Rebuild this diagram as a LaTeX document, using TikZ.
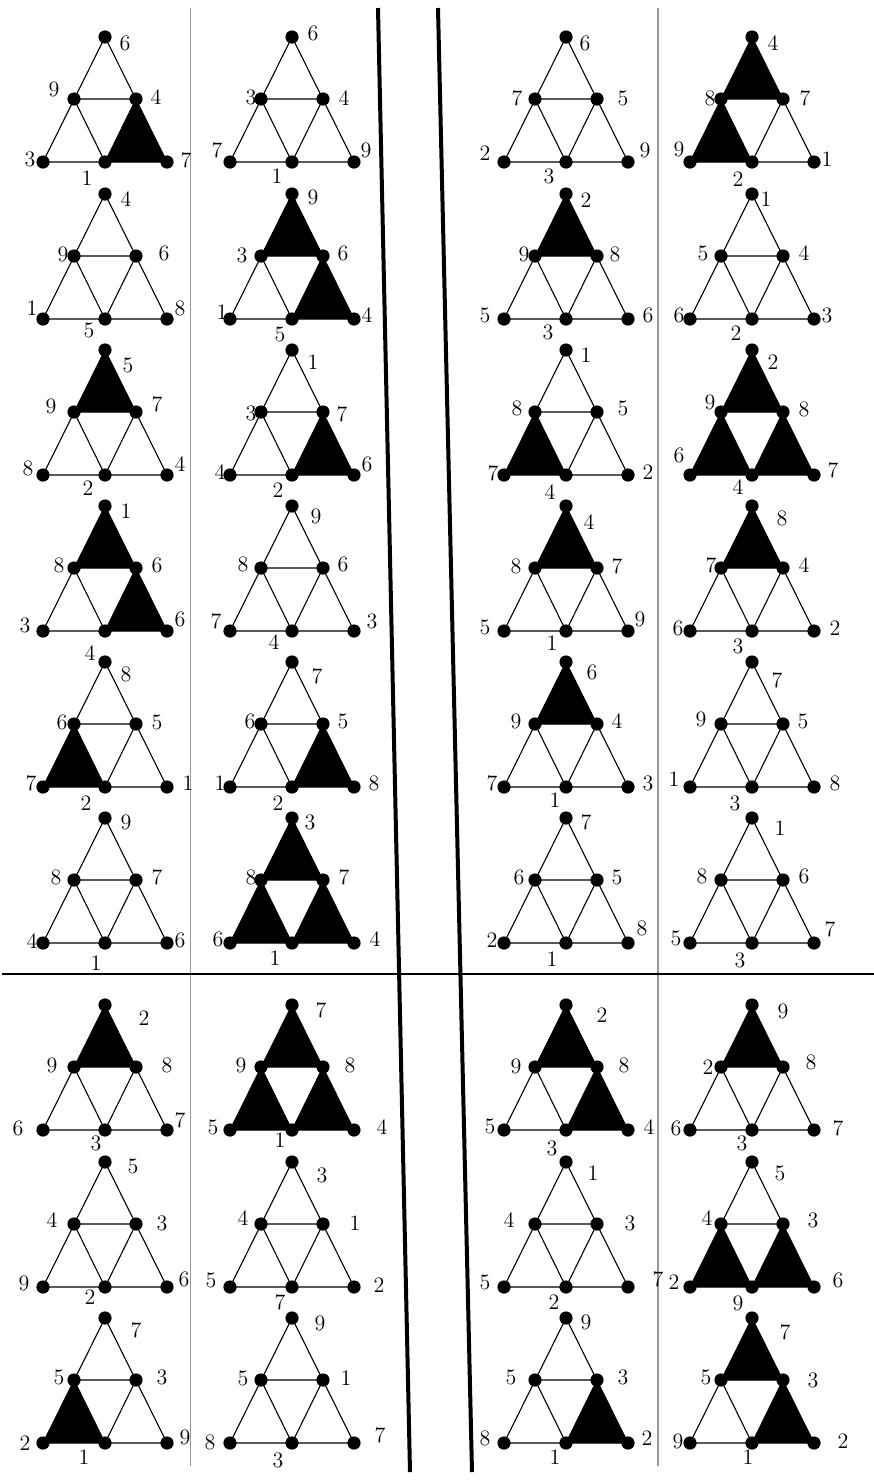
\documentclass[tikz,border=0pt]{standalone}
\usetikzlibrary{calc}
\tikzset{
  vtx/.style={circle,fill=black,inner sep=0pt,minimum size=6.6pt},
  edge/.style={line width=0.55pt,black},
  lab/.style={inner sep=0pt,font=\fontsize{11}{13}\selectfont},
  sep/.style={line width=0.8pt,gray!80},
  heavy/.style={line width=2pt,black},
  hline/.style={line width=0.8pt,black}
}
\newcommand\tricell[3]{%
  \coordinate (#1) at (#2,#3);
  \node[vtx] (#1T) at (#1) {};
  \node[vtx] (#1L) at ($(#1)+(-31,62)$) {};
  \node[vtx] (#1R) at ($(#1)+(31,62)$) {};
  \node[vtx] (#1A) at ($(#1)+(-62,125)$) {};
  \node[vtx] (#1B) at ($(#1)+(0,125)$) {};
  \node[vtx] (#1C) at ($(#1)+(62,125)$) {};
  \draw[edge] (#1T.center) -- (#1A.center) -- (#1C.center) -- cycle;
  \draw[edge] (#1L.center) -- (#1R.center) -- (#1B.center) -- cycle;
}
\newcommand\filltop[1]{\fill (#1T.center) -- (#1L.center) -- (#1R.center) -- cycle;}
\newcommand\fillleft[1]{\fill (#1L.center) -- (#1A.center) -- (#1B.center) -- cycle;}
\newcommand\fillright[1]{\fill (#1R.center) -- (#1B.center) -- (#1C.center) -- cycle;}
\newcommand\labs[2]{\foreach \v/\t/\dx/\dy in {#2} {\node[lab] (#1\v lab) at ($(#1)+(\dx,\dy)$) {\t};}}
\begin{document}
\begin{tikzpicture}[x=0.5pt,y=-0.5pt]
\useasboundingbox (0,0) rectangle (874,1480);
% separators
\coordinate (g1a) at (190.5,8); \coordinate (g1b) at (190.5,1466);
\coordinate (g2a) at (658,8); \coordinate (g2b) at (658,1466);
\draw[sep] (g1a) -- (g1b);
\draw[sep] (g2a) -- (g2b);
\coordinate (ha) at (2,974); \coordinate (hb) at (874,974);
\draw[hline] (ha) -- (hb);
\coordinate (k1a) at (378,8); \coordinate (k1b) at (410,1472);
\coordinate (k2a) at (438,8); \coordinate (k2b) at (472,1472);
\draw[heavy] (k1a) -- (k1b);
\draw[heavy] (k2a) -- (k2b);
% ---------- column 1
\tricell{a1}{105}{37}\fillright{a1}
\labs{a1}{T/6/20/6, L/9/-51/52, R/4/51/60, A/3/-75/122, B/1/-18/141, C/7/81/123}
\tricell{a2}{105}{194}
\labs{a2}{T/4/21/5, L/9/-42/60, R/6/59/59, A/1/-73/114, B/5/-16/136, C/8/75/114}
\tricell{a3}{105}{350}\filltop{a3}
\labs{a3}{T/5/23/15, L/9/-54/56, R/7/52/54, A/8/-77/118, B/2/-17/138, C/4/75/114}
\tricell{a4}{105}{506}\filltop{a4}\fillright{a4}
\labs{a4}{T/1/21/5, L/8/-46/59, R/6/52/59, A/3/-80/119, B/4/-15/147, C/6/75/113}
\tricell{a5}{105}{662}\fillleft{a5}
\labs{a5}{T/8/21/12, L/6/-43/60, R/5/52/60, A/7/-74/121, B/2/-19/141, C/1/83/121}
\tricell{a6}{105}{818}
\labs{a6}{T/9/21/4, L/8/-49/59, R/7/52/59, A/4/-73/123, B/1/-9/145, C/6/75/122}
\tricell{a7}{105}{1005}\filltop{a7}
\labs{a7}{T/2/39/13, L/9/-53/60, R/8/62/60, A/6/-87/123, B/3/-9/138, C/7/75/115}
\tricell{a8}{105}{1162}
\labs{a8}{T/5/28/4, L/4/-53/58, R/3/57/61, A/9/-81/121, B/2/-15/135, C/6/79/117}
\tricell{a9}{105}{1318}\fillleft{a9}
\labs{a9}{T/7/31/12, L/5/-46/59, R/3/57/59, A/2/-80/125, B/1/-21/139, C/9/80/119}
% ---------- column 2
\tricell{b1}{292}{37}
\labs{b1}{T/6/21/-4, L/3/-41/60, R/4/52/61, A/7/-75/113, B/1/-15/139, C/9/74/113}
\tricell{b2}{292}{194}\filltop{b2}\fillright{b2}
\labs{b2}{T/9/21/3, L/3/-50/61, R/6/51/59, A/1/-70/118, B/5/-12/140, C/4/75/121}
\tricell{b3}{292}{350}\fillright{b3}
\labs{b3}{T/1/21/12, L/3/-41/63, R/7/50/64, A/4/-72/122, B/2/-14/140, C/6/75/114}
\tricell{b4}{292}{506}
\labs{b4}{T/9/24/10, L/8/-49/58, R/6/51/58, A/7/-76/115, B/4/-18/136, C/3/80/115}
\tricell{b5}{292}{662}\fillright{b5}
\labs{b5}{T/7/25/14, L/6/-42/59, R/5/51/59, A/1/-72/121, B/2/-14/141, C/8/82/121}
\tricell{b6}{292}{818}\filltop{b6}\fillleft{b6}\fillright{b6}
\labs{b6}{T/3/18/4, L/8/-41/59, R/7/52/59, A/6/-74/121, B/1/-17/140, C/4/83/121}
\tricell{b7}{292}{1005}\filltop{b7}\fillleft{b7}\fillright{b7}
\labs{b7}{T/7/29/5, L/9/-51/60, R/8/58/60, A/5/-79/122, B/1/-12/135, C/4/90/122}
\tricell{b8}{292}{1162}
\labs{b8}{T/3/30/13, L/4/-49/56, R/1/63/61, A/5/-81/118, B/7/-12/140, C/2/87/123}
\tricell{b9}{292}{1318}
\labs{b9}{T/9/28/5, L/5/-49/60, R/1/54/60, A/8/-82/124, B/3/-14/142, C/7/88/117}
% ---------- column 3
\tricell{c1}{566}{37}
\labs{c1}{T/6/19/6, L/7/-49/61, R/5/57/61, A/2/-81/116, B/3/-17/139, C/9/79/113}
\tricell{c2}{566}{194}\filltop{c2}
\labs{c2}{T/2/20/6, L/9/-42/60, R/8/49/60, A/5/-81/121, B/3/-18/138, C/6/82/121}
\tricell{c3}{566}{350}\fillleft{c3}
\labs{c3}{T/1/20/5, L/8/-49/58, R/5/57/58, A/7/-73/123, B/4/-16/142, C/2/82/122}
\tricell{c4}{566}{506}\filltop{c4}
\labs{c4}{T/4/23/16, L/8/-50/60, R/7/51/60, A/5/-81/121, B/1/-14/137, C/9/74/113}
\tricell{c5}{566}{662}\filltop{c5}
\labs{c5}{T/6/26/10, L/9/-50/59, R/4/51/59, A/7/-74/121, B/1/-11/138, C/3/82/121}
\tricell{c6}{566}{818}
\labs{c6}{T/7/20/4, L/6/-47/59, R/5/51/59, A/2/-74/122, B/1/-14/141, C/8/76/110}
\tricell{c7}{566}{1005}\filltop{c7}\fillright{c7}
\labs{c7}{T/2/36/10, L/9/-50/61, R/8/58/60, A/5/-76/121, B/3/-14/143, C/4/83/122}
\tricell{c8}{566}{1162}
\labs{c8}{T/1/27/11, L/4/-57/58, R/3/64/61, A/5/-81/120, B/2/-12/140, C/7/92/117}
\tricell{c9}{566}{1318}\fillright{c9}
\labs{c9}{T/9/20/4, L/5/-55/59, R/3/57/59, A/8/-81/120, B/1/-11/139, C/2/81/120}
% ---------- column 4
\tricell{d1}{752}{37}\filltop{d1}\fillleft{d1}
\labs{d1}{T/4/21/6, L/8/-42/61, R/7/53/61, A/9/-73/112, B/2/-14/142, C/1/75/122}
\tricell{d2}{752}{194}
\labs{d2}{T/1/14/5, L/5/-49/59, R/4/52/59, A/6/-73/121, B/2/-16/139, C/3/75/121}
\tricell{d3}{752}{350}\filltop{d3}\fillleft{d3}\fillright{d3}
\labs{d3}{T/2/21/12, L/9/-42/52, R/8/52/59, A/6/-73/105, B/4/-14/137, C/7/81/120}
\tricell{d4}{752}{506}\filltop{d4}
\labs{d4}{T/8/30/12, L/7/-41/59, R/4/52/59, A/6/-74/122, B/3/-14/140, C/2/83/122}
\tricell{d5}{752}{662}
\labs{d5}{T/7/25/18, L/9/-51/57, R/5/51/59, A/1/-78/117, B/3/-17/141, C/8/83/121}
\tricell{d6}{752}{818}
\labs{d6}{T/1/28/10, L/8/-50/58, R/6/52/58, A/5/-76/120, B/3/-12/142, C/7/78/111}
\tricell{d7}{752}{1005}\filltop{d7}
\labs{d7}{T/9/31/6, L/2/-44/62, R/8/59/57, A/6/-76/123, B/3/-10/138, C/7/86/123}
\tricell{d8}{752}{1162}\fillleft{d8}\fillright{d8}
\labs{d8}{T/5/28/11, L/4/-45/56, R/3/61/58, A/2/-78/120, B/9/-14/141, C/6/86/118}
\tricell{d9}{752}{1318}\filltop{d9}\fillright{d9}
\labs{d9}{T/7/33/14, L/5/-46/59, R/3/61/62, A/9/-74/123, B/1/-4/139, C/2/91/123}
\end{tikzpicture}
\end{document}
